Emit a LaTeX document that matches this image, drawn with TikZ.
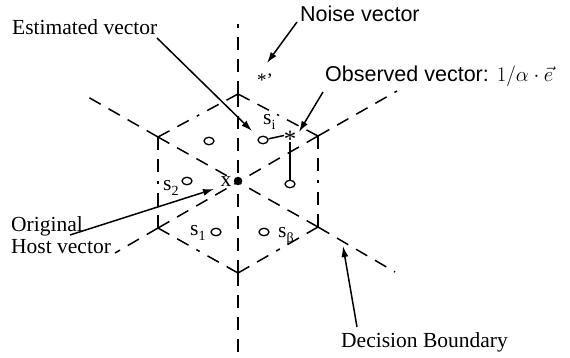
\documentclass[tikz,border=0pt]{standalone}
\usepackage{fontspec}
\setmainfont{Liberation Serif}
\newfontfamily\helv{Liberation Sans}
\usetikzlibrary{arrows.meta,shapes.geometric,calc}
\newcommand{\lowsub}[1]{\raisebox{-5pt}{\fontsize{14}{14}\selectfont #1}}
\begin{document}
\begin{tikzpicture}[x=1pt,y=-1pt,
  bound/.style={dash pattern=on 13pt off 9pt, line width=1.5pt},
  serlbl/.style={font=\fontsize{21.5}{22}\selectfont, inner sep=0pt},
  sanlbl/.style={font=\fontsize{21.5}{22}\helv, inner sep=0pt},
  ptr/.style={line width=1.5pt, -{Latex[length=11pt,width=7pt]}},
  vpt/.style={draw, ellipse, line width=1.3pt, minimum width=10pt, minimum height=7.5pt, inner sep=0pt},
  link/.style={line width=1.5pt},
]
\useasboundingbox (0,0) rectangle (570,358);
% lattice geometry
\coordinate (C) at (238,182);
\coordinate (T) at (238,94);
\coordinate (B) at (238,273);
\coordinate (UR) at (318,136);
\coordinate (LR) at (318,227);
\coordinate (LL) at (158,228);
\coordinate (UL) at (158,137);
\coordinate (Te) at (238,24);
\coordinate (Be) at (238,358);
\coordinate (ULe) at (88,97);
\coordinate (URe) at (397,91);
\coordinate (LLe) at (115,253);
\coordinate (LRe) at (395,272);
% lines through centre and beyond
\foreach \v/\e in {T/Te,B/Be,UL/ULe,UR/URe,LL/LLe,LR/LRe}{
  \draw[bound] (\v) -- (\e);
  \draw[bound] (\v) -- (C);
}
% hexagon edges, drawn from both ends
\foreach \a/\b in {T/UR,UR/LR,LR/B,B/LL,LL/UL,UL/T}{
  \draw[bound] (\a) -- ($(\a)!0.5!(\b)$);
  \draw[bound] (\b) -- ($(\b)!0.5!(\a)$);
}
% lattice points
\node[vpt] (c1) at (209,141) {};
\node[vpt] (ci) at (263,140) {};
\node[vpt] (c2) at (187,181) {};
\node[vpt] (cs1) at (216,232) {};
\node[vpt] (csb) at (264,232) {};
\node[vpt] (cst) at (290,184) {};
\node[circle, fill, inner sep=0pt, minimum size=8.5pt] (dot) at (238,181) {};
% labels of lattice points
\node[serlbl, anchor=base west] (li) at (263,125) {s\lowsub{i}};
\node[serlbl, anchor=base west] (l2) at (163,191) {s\lowsub{2}};
\node[serlbl, anchor=base west] (l1) at (190,236) {s\lowsub{1}};
\node[serlbl, anchor=base west] (lb) at (278,237) {s\lowsub{β}};
\node[serlbl, anchor=base] (lx) at (226,187) {x};
% observed vector and noise vector
\node[font=\fontsize{25}{25}\selectfont, inner sep=0pt, anchor=base] (star) at (290,148) {*};
\coordinate (Sw) at (284,135.5);
\coordinate (Ss) at (290,142);
\draw[link] (ci) -- (Sw);
\draw[link] (Ss) -- (cst);
\node[font=\fontsize{19}{19}\selectfont, inner sep=0pt, anchor=base west] (nstar) at (257,87) {*'};
% text labels
\node[serlbl, anchor=base west] (est) at (12,35) {Estimated vector};
\node[sanlbl, anchor=base west] (noise) at (300,22) {Noise vector};
\node[sanlbl, anchor=base west] (obs) at (325,82) {Observed vector: $1/\alpha\cdot\vec{e}$};
\node[serlbl, anchor=base west, align=left] (orig) at (11,253) {Original\\[-1pt]Host vector};
\node[serlbl, anchor=base west] (dec) at (341,347) {Decision Boundary};
% arrows
\coordinate (estS) at (157,38);
\coordinate (estT) at (252,131);
\coordinate (noiS) at (297,22);
\coordinate (noiT) at (267,63);
\coordinate (obsS) at (323,92);
\coordinate (obsT) at (299,132);
\coordinate (oriS) at (70,235);
\coordinate (oriT) at (214,189);
\coordinate (decS) at (357,327);
\coordinate (decT) at (343,246);
\draw[ptr] (estS) -- (estT);
\draw[ptr] (noiS) -- (noiT);
\draw[ptr] (obsS) -- (obsT);
\draw[ptr] (oriS) -- (oriT);
\draw[ptr] (decS) -- (decT);
\end{tikzpicture}
\end{document}
